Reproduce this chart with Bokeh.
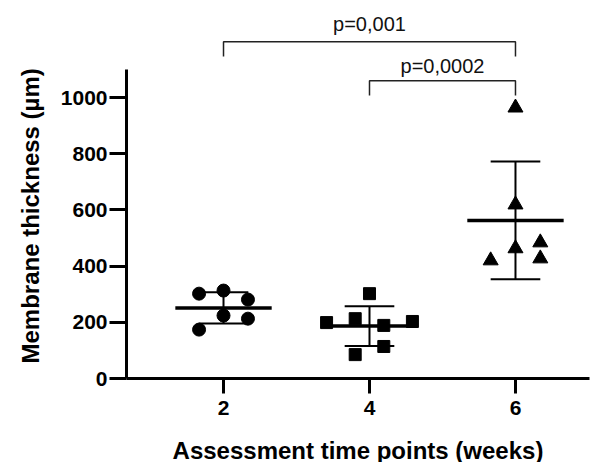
import numpy as np
from bokeh.plotting import figure
from bokeh.models import Range1d, FixedTicker, Title
from bokeh.core.properties import value
from bokeh.embed import file_html
from bokeh.resources import INLINE

# ---- data ----
weeks = [2, 4, 6]
tick_labels = ["2", "4", "6"]
week2 = [302, 313, 281, 224, 213, 174]
week4 = [302, 199, 213, 189, 203, 114, 85]
week6 = [964, 619, 420, 463, 484, 427]
# horizontal spread of points (in x units, layout only)
spread2 = [-1, 0, 1, 0, 1, -1]
spread4 = [0, -3, -1, 1, 3, 1, -1]
spread6 = [0, 0, -1, 0, 1, 1]
comparisons = [(2, 6, "p=0,001"), (4, 6, "p=0,0002")]

FONT = "Liberation Sans"

p = figure(frame_width=463, frame_height=370,
           x_range=Range1d(0.671, 7.014), y_range=Range1d(0, 1317),
           output_backend="svg", toolbar_location=None,
           min_border_left=126, min_border_right=4, min_border_top=8, min_border_bottom=84)
p.grid.visible = False
p.outline_line_color = None
p.background_fill_color = "white"
p.border_fill_color = "white"

# axes
for ax in (p.xaxis[0], p.yaxis[0]):
    ax.axis_line_width = 3
    ax.axis_line_color = "black"
    ax.major_tick_line_width = 3
    ax.major_tick_line_color = "black"
    ax.minor_tick_line_color = None
    ax.major_tick_in = 0
    ax.major_label_text_font = FONT
    ax.major_label_text_font_style = "bold"
    ax.major_label_text_font_size = "21px"
    ax.major_label_text_color = "black"
    ax.axis_label_text_font = FONT
    ax.axis_label_text_font_style = "bold"
    ax.axis_label_text_font_size = "24px"
    ax.axis_label_text_color = "black"

p.xaxis.ticker = FixedTicker(ticks=weeks)
p.xaxis.major_label_overrides = {w: t for w, t in zip(weeks, tick_labels)}
p.xaxis.major_tick_out = 15
p.xaxis.major_label_standoff = 7
p.xaxis.axis_label = "Assessment time points (weeks)"
p.xaxis.axis_label_standoff = 19

p.yaxis.ticker = FixedTicker(ticks=[0, 200, 400, 600, 800, 1000])
p.yaxis.bounds = (0, 1100)
p.yaxis.major_tick_out = 17
p.yaxis.major_label_standoff = 2

# y-axis title, centred on the drawn part of the axis
p.add_layout(Title(text="Membrane thickness (µm)", align="left", offset=15, standoff=27,
                   text_font=FONT, text_font_style="bold", text_font_size="24px",
                   text_color="black"), "left")

groups = [(2, week2, spread2, "circle", 13), (4, week4, spread4, "square", 12), (6, week6, spread6, "triangle", 15)]
steps = {2: 0.335, 4: 0.196, 6: 0.34}

for wk, vals, spr, marker, size in groups:
    arr = np.array(vals, dtype=float)
    m = arr.mean()
    sd = arr.std(ddof=1)
    xs = [wk + s * steps[wk] for s in spr]
    p.scatter(xs, vals, marker=marker, size=size, fill_color="black", line_color="black")
    # mean line
    p.segment(x0=[wk - 0.66], y0=[m], x1=[wk + 0.66], y1=[m], line_width=3.5, line_color="black")
    # SD bar
    p.segment(x0=[wk], y0=[m - sd], x1=[wk], y1=[m + sd], line_width=2, line_color="black")
    p.segment(x0=[wk - 0.34, wk - 0.34], y0=[m - sd, m + sd], x1=[wk + 0.34, wk + 0.34], y1=[m - sd, m + sd],
              line_width=2, line_color="black")

# significance brackets
bracket_y = [1199, 1060]
drop = 53
text_y = [1262, 1112]
for (a, b, txt), by, ty in zip(comparisons, bracket_y, text_y):
    p.line([a, a, b, b], [by - drop, by, by, by - drop], line_width=1.5, line_color="#222222")
    p.text(x=[(a + b) / 2], y=[ty], text=[txt], text_align="center", text_baseline="alphabetic",
           text_font=value(FONT), text_font_size="20px", text_color="#111111")

open("out.html", "w").write(file_html(p, INLINE))
